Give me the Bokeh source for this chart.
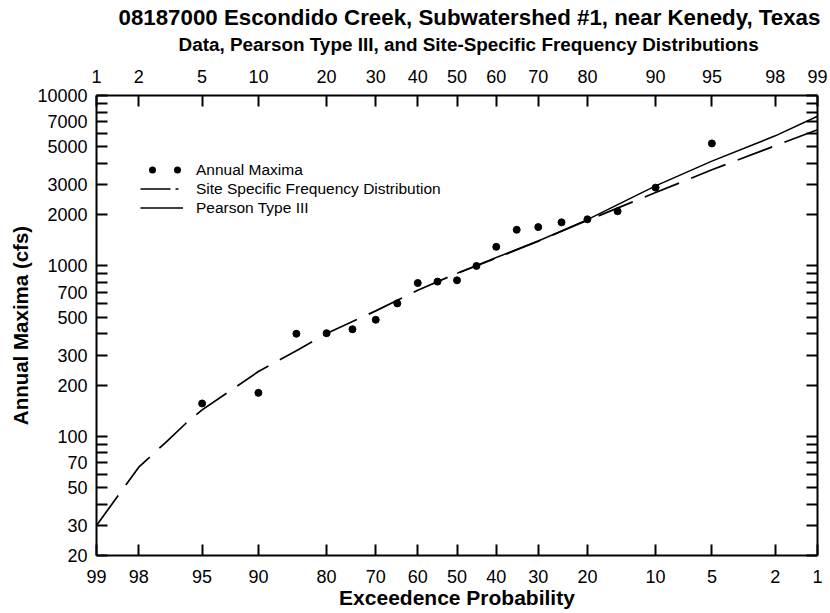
from statistics import NormalDist
from bokeh.plotting import figure
from bokeh.models import (Range1d, LinearAxis, LogAxis, FixedTicker, Title, Legend,
                          LegendItem, ColumnDataSource)
from bokeh.embed import file_html
from bokeh.resources import INLINE

# ---------------- data ----------------
obs_exceed = [95, 90, 85, 80, 75, 70, 65, 60, 55, 50, 45, 40, 35, 30, 25, 20, 15, 10, 5]
obs_flow = [156, 180, 400, 403, 425, 483, 603, 794, 809, 823, 1000, 1294, 1630, 1690,
            1802, 1877, 2093, 2880, 5235]

ssfd_exceed = [99, 98, 97, 96, 95, 90, 85, 80, 70, 60, 50, 40, 30, 20, 10, 5, 2, 1]
ssfd_flow = [30, 66, 92, 119, 143, 240, 318, 401, 545, 720, 905, 1110, 1398, 1851,
             2694, 3664, 5075, 6300]

p3_exceed = [50, 40, 30, 20, 10, 5, 2, 1]
p3_flow = [905, 1120, 1400, 1870, 2950, 4120, 5800, 7550]

nonexceed_ticks = [1, 2, 5, 10, 20, 30, 40, 50, 60, 70, 80, 90, 95, 98, 99]
y_ticks = [20, 30, 40, 50, 60, 70, 80, 90, 100, 200, 300, 400, 500, 600, 700, 800, 900,
           1000, 2000, 3000, 4000, 5000, 6000, 7000, 8000, 9000, 10000]
y_labeled = [20, 30, 50, 70, 100, 200, 300, 500, 700, 1000, 2000, 3000, 5000, 7000, 10000]

title_text = "08187000  Escondido Creek, Subwatershed #1, near Kenedy, Texas"
subtitle_text = "Data, Pearson Type III, and Site-Specific Frequency Distributions"

# ---------------- transforms ----------------
nd = NormalDist()


def zx(exceed_pct):
    return nd.inv_cdf(1.0 - exceed_pct / 100.0)


obs_src = ColumnDataSource(dict(x=[zx(e) for e in obs_exceed], y=obs_flow))
ssfd_src = ColumnDataSource(dict(x=[zx(e) for e in ssfd_exceed], y=ssfd_flow))
p3_src = ColumnDataSource(dict(x=[zx(e) for e in p3_exceed], y=p3_flow))

x_tick_pos = [nd.inv_cdf(q / 100.0) for q in nonexceed_ticks]
bottom_labels = {t: str(100 - q) for t, q in zip(x_tick_pos, nonexceed_ticks)}
top_labels = {t: str(q) for t, q in zip(x_tick_pos, nonexceed_ticks)}
y_labels = {t: (str(t) if t in y_labeled else "") for t in y_ticks}
y_blank = {t: "" for t in y_ticks}

FONT = "Liberation Sans"

p = figure(width=828, height=611, output_backend="svg", toolbar_location=None,
           x_range=Range1d(x_tick_pos[0], x_tick_pos[-1]),
           y_range=Range1d(20, 10000), y_axis_type="log", title=None,
           min_border_left=96, min_border_right=11, min_border_top=0, min_border_bottom=0)
p.grid.visible = False
p.outline_line_color = None
p.background_fill_color = "white"
p.border_fill_color = "white"


def style_axis(ax, labels, standoff, ticker):
    ax.ticker = FixedTicker(ticks=ticker)
    ax.major_label_overrides = labels
    ax.axis_line_width = 2
    ax.axis_line_color = "black"
    ax.major_tick_line_width = 2
    ax.major_tick_line_color = "black"
    ax.major_tick_in = 11
    ax.major_tick_out = 0
    ax.minor_tick_in = 0
    ax.minor_tick_out = 0
    ax.major_label_standoff = standoff
    ax.major_label_text_font = FONT
    ax.major_label_text_font_size = "18px"
    ax.major_label_text_color = "black"


# bottom axis
xb = p.xaxis[0]
style_axis(xb, bottom_labels, 14, x_tick_pos)
xb.axis_label = "Exceedence Probability"
xb.axis_label_text_font = FONT
xb.axis_label_text_font_style = "bold"
xb.axis_label_text_font_size = "21px"
xb.axis_label_text_color = "black"
xb.axis_label_standoff = 0

# left axis
yl = p.yaxis[0]
style_axis(yl, y_labels, 9, y_ticks)
yl.axis_label = "Annual Maxima (cfs)"
yl.axis_label_text_font = FONT
yl.axis_label_text_font_style = "bold"
yl.axis_label_text_font_size = "20.5px"
yl.axis_label_text_color = "black"
yl.axis_label_standoff = 2

# top axis (a 1px blank axis label only reserves the gap under the subtitle)
xt = LinearAxis(axis_label=" ", axis_label_text_font_size="1px", axis_label_standoff=8)
style_axis(xt, top_labels, 13, x_tick_pos)
p.add_layout(xt, "above")

# right axis
yr = LogAxis()
style_axis(yr, y_blank, 0, y_ticks)
p.add_layout(yr, "right")

# titles
p.add_layout(Title(text=subtitle_text, align="left", offset=82, text_font=FONT,
                   text_font_style="bold", text_font_size="18.9px", text_color="black",
                   standoff=0), "above")
p.add_layout(Title(text=title_text, align="left", offset=22, text_font=FONT,
                   text_font_style="bold", text_font_size="22.3px", text_color="black",
                   standoff=4), "above")

# curves
p.line("x", "y", source=ssfd_src, line_color="black", line_width=1.7, line_dash="37 13")
p.line("x", "y", source=p3_src, line_color="black", line_width=1.5)
p.scatter("x", "y", source=obs_src, size=7, color="black")

# legend proxies (no visible data; they only define how the legend samples look)
nan = float("nan")
leg_pts = p.line(x=[nan], y=[nan], line_color="black", line_width=7, line_cap="round",
                 line_dash="0 25", line_dash_offset=13)
leg_ssfd = p.line(x=[nan], y=[nan], line_color="black", line_width=1.7,
                  line_dash="30 5 3 5")
leg_p3 = p.line(x=[nan], y=[nan], line_color="black", line_width=1.5)

legend = Legend(items=[
    LegendItem(label="Annual Maxima", renderers=[leg_pts]),
    LegendItem(label="Site Specific Frequency Distribution", renderers=[leg_ssfd]),
    LegendItem(label="Pearson Type III", renderers=[leg_p3]),
], location=(44, 338), glyph_width=43, glyph_height=19, label_height=19, spacing=0,
    padding=0, margin=0, label_standoff=13, border_line_color=None,
    background_fill_alpha=0, label_text_font=FONT, label_text_font_size="15.5px",
    label_text_color="black")
p.add_layout(legend, "center")

open("out.html", "w").write(file_html(p, INLINE))
